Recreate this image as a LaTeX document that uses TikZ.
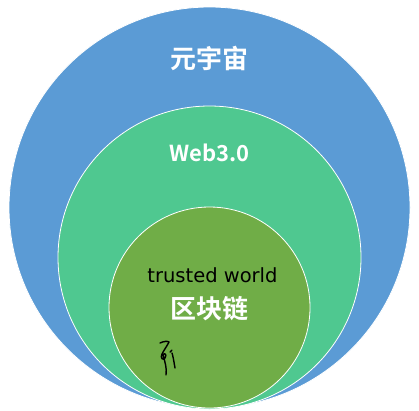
\documentclass[tikz,border=0pt]{standalone}
\usepackage{fontspec}
\newfontfamily\cjk{Noto Sans CJK SC}[BoldFont={* Bold}]
\newfontfamily\hand{DejaVu Sans}
\definecolor{outerblue}{HTML}{5B9BD5}
\definecolor{midgreen}{HTML}{4FC890}
\definecolor{innergreen}{HTML}{70AD47}
\begin{document}
\begin{tikzpicture}[x=1pt,y=-1pt,
  ring/.style={circle,draw=white,line width=0.8pt,inner sep=0pt},
  title/.style={text=white,font=\cjk\bfseries},
  scribble/.style={draw=black,line width=1.4pt,line cap=round,line join=round}]
\useasboundingbox[fill=white] (0,0) rectangle (419,410);
\node[ring,fill=outerblue,minimum size=401pt] (outer) at (209.5,207.5) {};
\node[ring,fill=midgreen,minimum size=303pt] (mid) at (209.5,257.5) {};
\node[ring,fill=innergreen,minimum size=201pt] (inner) at (209.5,307.5) {};
\node[title,font=\cjk\bfseries\fontsize{26}{30}\selectfont] (t1) at (209.5,58) {元宇宙};
\node[title,font=\cjk\bfseries\fontsize{22}{26}\selectfont] (t2) at (209.5,153) {Web3.0};
\node[font=\hand\fontsize{19.5}{22}\selectfont,text=black,xscale=1.0] (t3) at (212.5,275) {trusted world};
\node[title,font=\cjk\bfseries\fontsize{26}{30}\selectfont] (t4) at (209.5,309) {区块链};
\draw[scribble] (160,343) .. controls (164,341) and (168,341) .. (169,342)
  .. controls (167,346) and (164,350) .. (162,354)
  .. controls (160,358) and (163,361) .. (165,358)
  .. controls (167,355) and (165,352) .. (163,355)
  .. controls (165,362) and (167,368) .. (166,375);
\draw[scribble] (172,353) .. controls (173,356) and (174,362) .. (175,368);
\draw[scribble] (170,352) -- (172,350);
\end{tikzpicture}
\end{document}
